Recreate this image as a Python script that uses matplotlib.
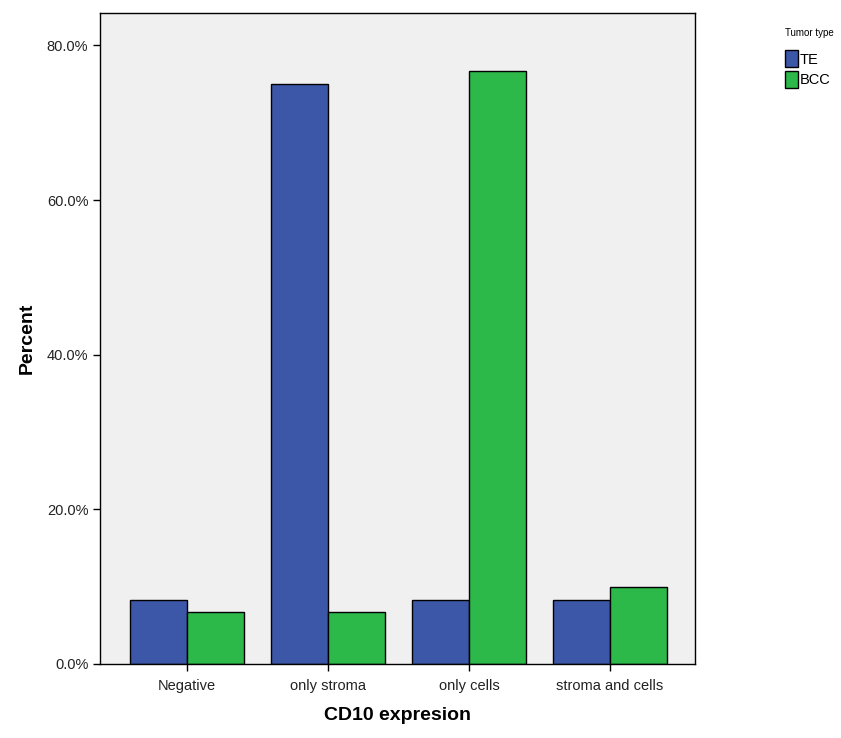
import numpy as np
import matplotlib.pyplot as plt
from matplotlib.patches import Patch
from matplotlib.ticker import FuncFormatter

plt.rcParams['font.family'] = ['Liberation Sans', 'DejaVu Sans']

categories = ['Negative', 'only stroma', 'only cells', 'stroma and cells']
te_values = [8.3, 75.0, 8.3, 8.3]
bcc_values = [6.7, 6.7, 76.7, 10.0]
series_names = ['TE', 'BCC']
colors = ['#3c56a8', '#2db84a']

fig = plt.figure(figsize=(8.41, 7.38), dpi=100)
ax = fig.add_axes([0.119, 0.1003, 0.707, 0.8821])
ax.set_facecolor('#f0f0f0')

x = np.arange(len(categories))
w = 0.404
ax.bar(x - w / 2, te_values, w, color=colors[0], edgecolor='black', linewidth=1.0, zorder=2)
ax.bar(x + w / 2, bcc_values, w, color=colors[1], edgecolor='black', linewidth=1.0, zorder=2)

ax.set_xlim(-0.617, 3.60)
ax.set_ylim(0, 84.2)
ax.set_yticks([0, 20, 40, 60, 80])
ax.yaxis.set_major_formatter(FuncFormatter(lambda v, p: f'{v:.1f}%'))
ax.set_xticks(x)
ax.set_xticklabels(categories)
ax.tick_params(axis='both', labelsize=10.5, color='black', length=5, width=1, colors='#222222')
ax.tick_params(axis='x', pad=6)
for s in ax.spines.values():
    s.set_linewidth(1.0)

ax.set_xlabel('CD10 expresion', fontsize=14, fontweight='bold', labelpad=10)
ax.set_ylabel('Percent', fontsize=14, fontweight='bold', labelpad=8)

handles = [Patch(facecolor=c, edgecolor='black', label=n) for c, n in zip(colors, series_names)]
leg = fig.legend(handles=handles, title='Tumor type', loc='upper left',
                 bbox_to_anchor=(0.925, 0.972), frameon=False, fontsize=10.5,
                 title_fontsize=7, handlelength=0.85, handleheight=1.35,
                 handletextpad=0.15, labelspacing=0.3, borderpad=0)
leg._legend_box.align = 'left'
leg._legend_box.sep = 9

fig.savefig('out.png', dpi=100)
